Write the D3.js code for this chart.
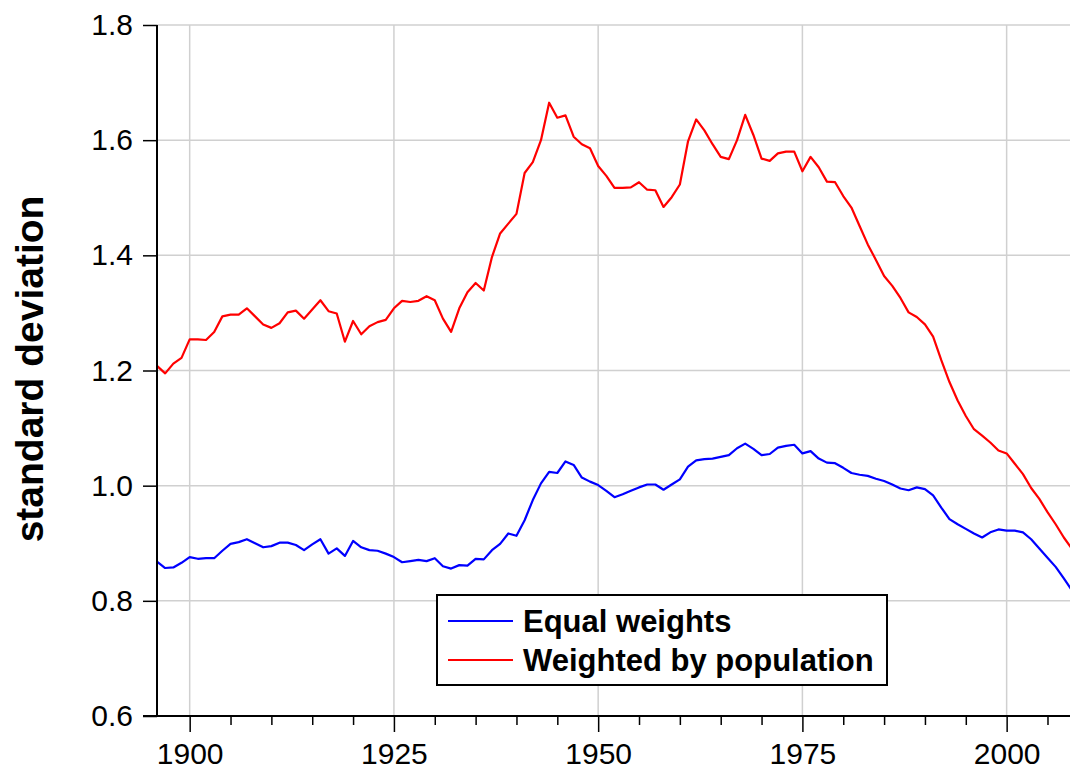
<!DOCTYPE html>
<html>
<head>
<meta charset="utf-8">
<script src="https://cdn.jsdelivr.net/npm/d3@7"></script>
<style>
  body { margin: 0; background: #fff; }
  text { font-family: "Liberation Sans", Arial, sans-serif; }
</style>
</head>
<body>
<svg id="canvas"></svg>
<script>
var w = 1070;
var h = 772;

// years on the x axis, one point per year
var firstYear = 1896;
var lastYear = 2008;
var xTicks = [1900, 1925, 1950, 1975, 2000];
var yTicks = [0.6, 0.8, 1.0, 1.2, 1.4, 1.6, 1.8];

var seriesNames = ["Equal weights", "Weighted by population"];
var seriesColors = ["#0000ff", "#ff0000"];

// standard deviation, equal weights (1896-2008)
var equalWeights = [
  0.868, 0.857, 0.858, 0.866, 0.876, 0.873, 0.874, 0.874, 0.887, 0.899,
  0.902, 0.907, 0.900, 0.893, 0.895, 0.901, 0.901, 0.897, 0.888, 0.898,
  0.907, 0.882, 0.891, 0.878, 0.904, 0.893, 0.888, 0.887, 0.882, 0.876,
  0.867, 0.869, 0.871, 0.869, 0.874, 0.860, 0.856, 0.862, 0.861, 0.873,
  0.872, 0.888, 0.899, 0.917, 0.913, 0.940, 0.975, 1.004, 1.024, 1.022,
  1.042, 1.036, 1.014, 1.007, 1.001, 0.991, 0.980, 0.985, 0.991, 0.997,
  1.002, 1.002, 0.993, 1.002, 1.011, 1.033, 1.044, 1.046, 1.047, 1.050,
  1.053, 1.065, 1.073, 1.064, 1.053, 1.055, 1.066, 1.069, 1.071, 1.056,
  1.060, 1.047, 1.040, 1.039, 1.031, 1.022, 1.019, 1.017, 1.012, 1.008,
  1.002, 0.995, 0.992, 0.997, 0.994, 0.983, 0.962, 0.942, 0.933, 0.925,
  0.917, 0.910, 0.919, 0.924, 0.922, 0.922, 0.919, 0.907, 0.891, 0.875,
  0.859, 0.839, 0.818
];

// standard deviation, weighted by population (1896-2008)
var popWeighted = [
  1.208, 1.195, 1.212, 1.222, 1.254, 1.254, 1.253, 1.267, 1.294, 1.297,
  1.297, 1.308, 1.294, 1.280, 1.274, 1.282, 1.301, 1.304, 1.290, 1.306,
  1.322, 1.303, 1.299, 1.250, 1.286, 1.263, 1.277, 1.284, 1.288, 1.308,
  1.321, 1.319, 1.321, 1.329, 1.322, 1.290, 1.267, 1.308, 1.336, 1.352,
  1.339, 1.397, 1.438, 1.455, 1.472, 1.543, 1.562, 1.600, 1.665, 1.639,
  1.643, 1.606, 1.593, 1.586, 1.555, 1.538, 1.517, 1.517, 1.518, 1.527,
  1.514, 1.513, 1.484, 1.501, 1.523, 1.598, 1.636, 1.617, 1.593, 1.571,
  1.567, 1.600, 1.644, 1.609, 1.568, 1.564, 1.577, 1.580, 1.580, 1.546,
  1.571, 1.553, 1.528, 1.527, 1.503, 1.483, 1.451, 1.419, 1.392, 1.364,
  1.347, 1.326, 1.301, 1.293, 1.280, 1.259, 1.218, 1.180, 1.148, 1.121,
  1.098, 1.087, 1.075, 1.061, 1.056, 1.038, 1.020, 0.996, 0.977, 0.954,
  0.933, 0.910, 0.890
];

var years = d3.range(firstYear, lastYear + 1);

window.onload = function () {
  var svg = d3.select("#canvas")
    .attr("width", w)
    .attr("height", h)
    .attr("viewBox", [0, 0, w, h]);

  var left = 157, right = 1072, top = 25, bottom = 716;

  var x = d3.scaleLinear().domain([firstYear, lastYear]).range([left, right]);
  var y = d3.scaleLinear().domain([0.6, 1.8]).range([bottom, top]);

  // gridlines
  svg.append("g").selectAll("line")
    .data(yTicks)
    .enter().append("line")
    .attr("x1", left).attr("x2", w)
    .attr("y1", d => y(d)).attr("y2", d => y(d))
    .style("stroke", "#d0d0d0")
    .style("stroke-width", 1.5);

  svg.append("g").selectAll("line")
    .data(xTicks)
    .enter().append("line")
    .attr("x1", d => x(d)).attr("x2", d => x(d))
    .attr("y1", top).attr("y2", bottom)
    .style("stroke", "#d0d0d0")
    .style("stroke-width", 1.5);

  // lines
  var line = d3.line()
    .x((d, i) => x(years[i]))
    .y(d => y(d));

  [equalWeights, popWeighted].forEach(function (s, k) {
    svg.append("path")
      .datum(s)
      .attr("d", line)
      .style("fill", "none")
      .style("stroke", seriesColors[k])
      .style("stroke-width", 2.2)
      .style("stroke-linejoin", "round");
  });

  // y axis
  var yAxis = d3.axisLeft(y)
    .tickValues(yTicks)
    .tickFormat(d3.format(".1f"))
    .tickSize(14)
    .tickPadding(10);
  var ya = svg.append("g")
    .attr("transform", "translate(" + left + ",0)")
    .call(yAxis);
  ya.select(".domain").remove();
  ya.append("line")
    .attr("x1", 0).attr("x2", 0)
    .attr("y1", top).attr("y2", bottom)
    .style("stroke", "#000").style("stroke-width", 2);
  ya.selectAll(".tick line").style("stroke", "#000").style("stroke-width", 1.5);
  ya.selectAll(".tick text")
    .style("font-size", "30px")
    .style("fill", "#000");

  // x axis: minor ticks every 5 years, labels every 25
  var minor = d3.range(1900, lastYear + 1, 5).filter(d => xTicks.indexOf(d) < 0);
  var xAxisMinor = d3.axisBottom(x).tickValues(minor).tickSize(9).tickFormat("");
  var xm = svg.append("g")
    .attr("transform", "translate(0," + bottom + ")")
    .call(xAxisMinor);
  xm.select(".domain").remove();
  xm.selectAll(".tick line").style("stroke", "#000").style("stroke-width", 1.5);

  var xAxis = d3.axisBottom(x).tickValues(xTicks).tickFormat(d3.format("d"))
    .tickSize(16).tickPadding(11);
  var xa = svg.append("g")
    .attr("transform", "translate(0," + bottom + ")")
    .call(xAxis);
  xa.select(".domain").remove();
  xa.append("line")
    .attr("x1", left - 14).attr("x2", w)
    .attr("y1", 0).attr("y2", 0)
    .style("stroke", "#000").style("stroke-width", 2);
  xa.selectAll(".tick line").style("stroke", "#000").style("stroke-width", 1.5);
  xa.selectAll(".tick text")
    .style("font-size", "30px")
    .style("fill", "#000");

  // y axis title
  svg.append("text")
    .attr("transform", "translate(43,369) rotate(-90)")
    .attr("text-anchor", "middle")
    .style("font-size", "39px")
    .style("font-weight", "bold")
    .text("standard deviation");

  // legend
  var lg = svg.append("g").attr("transform", "translate(437,595)");
  lg.append("rect")
    .attr("width", 450).attr("height", 90)
    .style("fill", "#fff")
    .style("stroke", "#000")
    .style("stroke-width", 2);
  seriesNames.forEach(function (name, k) {
    var ly = 26 + k * 39;
    lg.append("line")
      .attr("x1", 11).attr("x2", 76)
      .attr("y1", ly).attr("y2", ly)
      .style("stroke", seriesColors[k])
      .style("stroke-width", 2.2);
    lg.append("text")
      .attr("x", 86).attr("y", ly + 11)
      .style("font-size", "31px")
      .style("font-weight", "bold")
      .text(name);
  });
};
</script>
</body>
</html>
